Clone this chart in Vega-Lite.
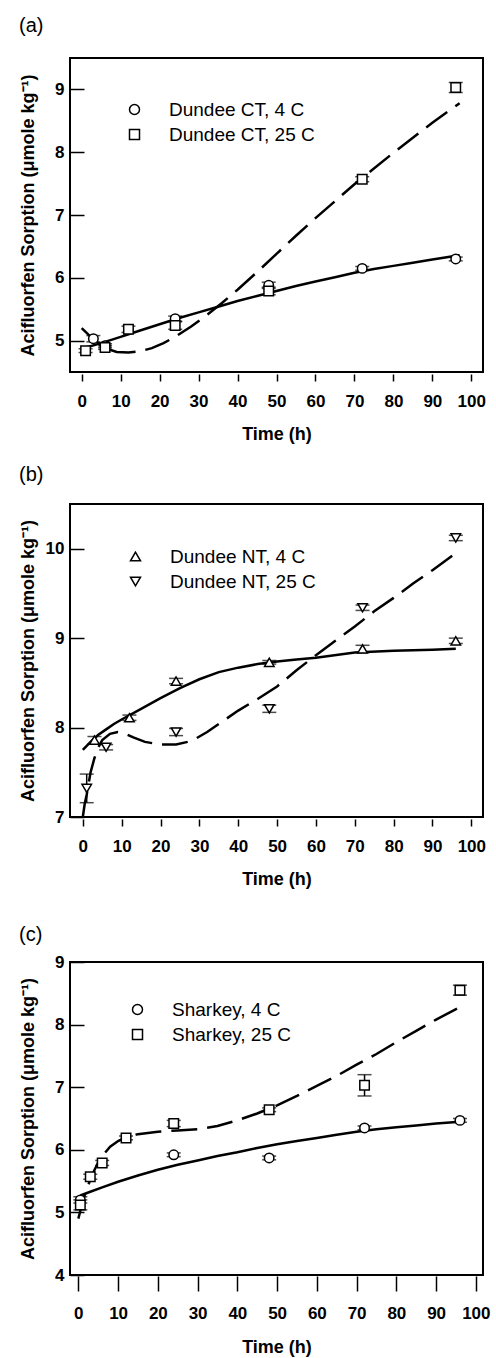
{
  "$schema": "https://vega.github.io/schema/vega-lite/v6.json",
  "background": "white",
  "padding": {"left": 18, "top": 15, "right": 5, "bottom": 0},
  "spacing": 20,
  "datasets": {
    "pts": [
      {"panel": "a", "series": "Dundee CT, 4 C", "t": 3, "v": 5.03, "err": 0.05},
      {"panel": "a", "series": "Dundee CT, 4 C", "t": 6, "v": 4.92, "err": 0.03},
      {"panel": "a", "series": "Dundee CT, 4 C", "t": 24, "v": 5.35, "err": 0.04},
      {"panel": "a", "series": "Dundee CT, 4 C", "t": 48, "v": 5.88, "err": 0.05},
      {"panel": "a", "series": "Dundee CT, 4 C", "t": 72, "v": 6.15, "err": 0.03},
      {"panel": "a", "series": "Dundee CT, 4 C", "t": 96, "v": 6.30, "err": 0.03},
      {"panel": "a", "series": "Dundee CT, 25 C", "t": 1, "v": 4.84, "err": 0.03},
      {"panel": "a", "series": "Dundee CT, 25 C", "t": 6, "v": 4.89, "err": 0.03},
      {"panel": "a", "series": "Dundee CT, 25 C", "t": 12, "v": 5.18, "err": 0.05},
      {"panel": "a", "series": "Dundee CT, 25 C", "t": 24, "v": 5.24, "err": 0.06},
      {"panel": "a", "series": "Dundee CT, 25 C", "t": 48, "v": 5.79, "err": 0.06},
      {"panel": "a", "series": "Dundee CT, 25 C", "t": 72, "v": 7.57, "err": 0.04},
      {"panel": "a", "series": "Dundee CT, 25 C", "t": 96, "v": 9.03, "err": 0.08},
      {"panel": "b", "series": "Dundee NT, 4 C", "t": 3, "v": 7.86, "err": 0.04},
      {"panel": "b", "series": "Dundee NT, 4 C", "t": 12, "v": 8.11, "err": 0.03},
      {"panel": "b", "series": "Dundee NT, 4 C", "t": 24, "v": 8.52, "err": 0.03},
      {"panel": "b", "series": "Dundee NT, 4 C", "t": 48, "v": 8.73, "err": 0.02},
      {"panel": "b", "series": "Dundee NT, 4 C", "t": 72, "v": 8.88, "err": 0.04},
      {"panel": "b", "series": "Dundee NT, 4 C", "t": 96, "v": 8.97, "err": 0.03},
      {"panel": "b", "series": "Dundee NT, 25 C", "t": 1, "v": 7.32, "err": 0.16},
      {"panel": "b", "series": "Dundee NT, 25 C", "t": 6, "v": 7.78, "err": 0.03},
      {"panel": "b", "series": "Dundee NT, 25 C", "t": 24, "v": 7.95, "err": 0.04},
      {"panel": "b", "series": "Dundee NT, 25 C", "t": 48, "v": 8.21, "err": 0.04},
      {"panel": "b", "series": "Dundee NT, 25 C", "t": 72, "v": 9.34, "err": 0.03},
      {"panel": "b", "series": "Dundee NT, 25 C", "t": 96, "v": 10.12, "err": 0.03},
      {"panel": "c", "series": "Sharkey, 4 C", "t": 0.5, "v": 5.2, "err": 0.05},
      {"panel": "c", "series": "Sharkey, 4 C", "t": 24, "v": 5.92, "err": 0.03},
      {"panel": "c", "series": "Sharkey, 4 C", "t": 48, "v": 5.87, "err": 0.03},
      {"panel": "c", "series": "Sharkey, 4 C", "t": 72, "v": 6.35, "err": 0.03},
      {"panel": "c", "series": "Sharkey, 4 C", "t": 96, "v": 6.47, "err": 0.03},
      {"panel": "c", "series": "Sharkey, 25 C", "t": 0.5, "v": 5.12, "err": 0.08},
      {"panel": "c", "series": "Sharkey, 25 C", "t": 3, "v": 5.57, "err": 0.04},
      {"panel": "c", "series": "Sharkey, 25 C", "t": 6, "v": 5.79, "err": 0.04},
      {"panel": "c", "series": "Sharkey, 25 C", "t": 12, "v": 6.19, "err": 0.03},
      {"panel": "c", "series": "Sharkey, 25 C", "t": 24, "v": 6.42, "err": 0.05},
      {"panel": "c", "series": "Sharkey, 25 C", "t": 48, "v": 6.64, "err": 0.03},
      {"panel": "c", "series": "Sharkey, 25 C", "t": 72, "v": 7.03, "err": 0.17},
      {"panel": "c", "series": "Sharkey, 25 C", "t": 96, "v": 8.55, "err": 0.08}
    ],
    "fit": [
      {"panel": "a", "kind": "solid", "t": 0, "v": 4.87},
      {"panel": "a", "kind": "solid", "t": 5, "v": 4.96},
      {"panel": "a", "kind": "solid", "t": 10, "v": 5.06},
      {"panel": "a", "kind": "solid", "t": 15, "v": 5.16},
      {"panel": "a", "kind": "solid", "t": 20, "v": 5.26},
      {"panel": "a", "kind": "solid", "t": 25, "v": 5.36},
      {"panel": "a", "kind": "solid", "t": 30, "v": 5.45},
      {"panel": "a", "kind": "solid", "t": 35, "v": 5.54},
      {"panel": "a", "kind": "solid", "t": 40, "v": 5.63},
      {"panel": "a", "kind": "solid", "t": 45, "v": 5.71},
      {"panel": "a", "kind": "solid", "t": 50, "v": 5.79},
      {"panel": "a", "kind": "solid", "t": 55, "v": 5.87},
      {"panel": "a", "kind": "solid", "t": 60, "v": 5.94},
      {"panel": "a", "kind": "solid", "t": 65, "v": 6.01},
      {"panel": "a", "kind": "solid", "t": 70, "v": 6.08},
      {"panel": "a", "kind": "solid", "t": 75, "v": 6.14},
      {"panel": "a", "kind": "solid", "t": 80, "v": 6.19},
      {"panel": "a", "kind": "solid", "t": 85, "v": 6.24},
      {"panel": "a", "kind": "solid", "t": 90, "v": 6.29},
      {"panel": "a", "kind": "solid", "t": 97, "v": 6.36},
      {"panel": "a", "kind": "dashed", "t": 0, "v": 5.2},
      {"panel": "a", "kind": "dashed", "t": 3, "v": 5.02},
      {"panel": "a", "kind": "dashed", "t": 6, "v": 4.88},
      {"panel": "a", "kind": "dashed", "t": 9, "v": 4.82},
      {"panel": "a", "kind": "dashed", "t": 12, "v": 4.81},
      {"panel": "a", "kind": "dashed", "t": 15, "v": 4.83},
      {"panel": "a", "kind": "dashed", "t": 18, "v": 4.88},
      {"panel": "a", "kind": "dashed", "t": 21, "v": 4.96},
      {"panel": "a", "kind": "dashed", "t": 24, "v": 5.06},
      {"panel": "a", "kind": "dashed", "t": 28, "v": 5.22},
      {"panel": "a", "kind": "dashed", "t": 32, "v": 5.4},
      {"panel": "a", "kind": "dashed", "t": 36, "v": 5.6},
      {"panel": "a", "kind": "dashed", "t": 40, "v": 5.81},
      {"panel": "a", "kind": "dashed", "t": 45, "v": 6.09},
      {"panel": "a", "kind": "dashed", "t": 50, "v": 6.38},
      {"panel": "a", "kind": "dashed", "t": 55, "v": 6.67},
      {"panel": "a", "kind": "dashed", "t": 60, "v": 6.95},
      {"panel": "a", "kind": "dashed", "t": 65, "v": 7.22},
      {"panel": "a", "kind": "dashed", "t": 70, "v": 7.49},
      {"panel": "a", "kind": "dashed", "t": 75, "v": 7.74},
      {"panel": "a", "kind": "dashed", "t": 80, "v": 7.99},
      {"panel": "a", "kind": "dashed", "t": 85, "v": 8.23},
      {"panel": "a", "kind": "dashed", "t": 90, "v": 8.47},
      {"panel": "a", "kind": "dashed", "t": 97, "v": 8.78},
      {"panel": "b", "kind": "solid", "t": 0, "v": 7.75},
      {"panel": "b", "kind": "solid", "t": 2, "v": 7.84},
      {"panel": "b", "kind": "solid", "t": 4, "v": 7.92},
      {"panel": "b", "kind": "solid", "t": 6, "v": 7.98},
      {"panel": "b", "kind": "solid", "t": 8, "v": 8.04},
      {"panel": "b", "kind": "solid", "t": 10, "v": 8.09},
      {"panel": "b", "kind": "solid", "t": 15, "v": 8.21},
      {"panel": "b", "kind": "solid", "t": 20, "v": 8.33},
      {"panel": "b", "kind": "solid", "t": 25, "v": 8.44},
      {"panel": "b", "kind": "solid", "t": 30, "v": 8.54},
      {"panel": "b", "kind": "solid", "t": 35, "v": 8.62},
      {"panel": "b", "kind": "solid", "t": 40, "v": 8.67},
      {"panel": "b", "kind": "solid", "t": 45, "v": 8.71},
      {"panel": "b", "kind": "solid", "t": 50, "v": 8.74},
      {"panel": "b", "kind": "solid", "t": 55, "v": 8.76},
      {"panel": "b", "kind": "solid", "t": 60, "v": 8.78},
      {"panel": "b", "kind": "solid", "t": 70, "v": 8.84},
      {"panel": "b", "kind": "solid", "t": 80, "v": 8.86},
      {"panel": "b", "kind": "solid", "t": 90, "v": 8.87},
      {"panel": "b", "kind": "solid", "t": 96, "v": 8.88},
      {"panel": "b", "kind": "dashed", "t": 0, "v": 7.0},
      {"panel": "b", "kind": "dashed", "t": 0.5, "v": 7.15},
      {"panel": "b", "kind": "dashed", "t": 1, "v": 7.25},
      {"panel": "b", "kind": "dashed", "t": 2, "v": 7.5},
      {"panel": "b", "kind": "dashed", "t": 3, "v": 7.66},
      {"panel": "b", "kind": "dashed", "t": 4, "v": 7.78},
      {"panel": "b", "kind": "dashed", "t": 5, "v": 7.86},
      {"panel": "b", "kind": "dashed", "t": 7, "v": 7.93},
      {"panel": "b", "kind": "dashed", "t": 9, "v": 7.95},
      {"panel": "b", "kind": "dashed", "t": 11, "v": 7.93},
      {"panel": "b", "kind": "dashed", "t": 13, "v": 7.89},
      {"panel": "b", "kind": "dashed", "t": 16, "v": 7.84},
      {"panel": "b", "kind": "dashed", "t": 20, "v": 7.81},
      {"panel": "b", "kind": "dashed", "t": 24, "v": 7.81},
      {"panel": "b", "kind": "dashed", "t": 28, "v": 7.85},
      {"panel": "b", "kind": "dashed", "t": 32, "v": 7.95},
      {"panel": "b", "kind": "dashed", "t": 36, "v": 8.07},
      {"panel": "b", "kind": "dashed", "t": 40, "v": 8.19},
      {"panel": "b", "kind": "dashed", "t": 45, "v": 8.32},
      {"panel": "b", "kind": "dashed", "t": 50, "v": 8.46},
      {"panel": "b", "kind": "dashed", "t": 55, "v": 8.64},
      {"panel": "b", "kind": "dashed", "t": 60, "v": 8.81},
      {"panel": "b", "kind": "dashed", "t": 65, "v": 8.97},
      {"panel": "b", "kind": "dashed", "t": 70, "v": 9.13},
      {"panel": "b", "kind": "dashed", "t": 75, "v": 9.3},
      {"panel": "b", "kind": "dashed", "t": 80, "v": 9.45},
      {"panel": "b", "kind": "dashed", "t": 85, "v": 9.61},
      {"panel": "b", "kind": "dashed", "t": 90, "v": 9.76},
      {"panel": "b", "kind": "dashed", "t": 96, "v": 9.95},
      {"panel": "c", "kind": "solid", "t": 0.5, "v": 5.27},
      {"panel": "c", "kind": "solid", "t": 3, "v": 5.33},
      {"panel": "c", "kind": "solid", "t": 6, "v": 5.4},
      {"panel": "c", "kind": "solid", "t": 10, "v": 5.49},
      {"panel": "c", "kind": "solid", "t": 15, "v": 5.59},
      {"panel": "c", "kind": "solid", "t": 20, "v": 5.68},
      {"panel": "c", "kind": "solid", "t": 25, "v": 5.76},
      {"panel": "c", "kind": "solid", "t": 30, "v": 5.83},
      {"panel": "c", "kind": "solid", "t": 35, "v": 5.9},
      {"panel": "c", "kind": "solid", "t": 40, "v": 5.96},
      {"panel": "c", "kind": "solid", "t": 45, "v": 6.03},
      {"panel": "c", "kind": "solid", "t": 50, "v": 6.09},
      {"panel": "c", "kind": "solid", "t": 55, "v": 6.14},
      {"panel": "c", "kind": "solid", "t": 60, "v": 6.19},
      {"panel": "c", "kind": "solid", "t": 65, "v": 6.24},
      {"panel": "c", "kind": "solid", "t": 70, "v": 6.29},
      {"panel": "c", "kind": "solid", "t": 75, "v": 6.33},
      {"panel": "c", "kind": "solid", "t": 80, "v": 6.36},
      {"panel": "c", "kind": "solid", "t": 85, "v": 6.39},
      {"panel": "c", "kind": "solid", "t": 90, "v": 6.42},
      {"panel": "c", "kind": "solid", "t": 96, "v": 6.45},
      {"panel": "c", "kind": "dashed", "t": 0, "v": 4.9},
      {"panel": "c", "kind": "dashed", "t": 1, "v": 5.15},
      {"panel": "c", "kind": "dashed", "t": 2, "v": 5.36},
      {"panel": "c", "kind": "dashed", "t": 3, "v": 5.52},
      {"panel": "c", "kind": "dashed", "t": 4, "v": 5.67},
      {"panel": "c", "kind": "dashed", "t": 5, "v": 5.8},
      {"panel": "c", "kind": "dashed", "t": 6, "v": 5.9},
      {"panel": "c", "kind": "dashed", "t": 8, "v": 6.05},
      {"panel": "c", "kind": "dashed", "t": 10, "v": 6.14},
      {"panel": "c", "kind": "dashed", "t": 12, "v": 6.2},
      {"panel": "c", "kind": "dashed", "t": 15, "v": 6.25},
      {"panel": "c", "kind": "dashed", "t": 20, "v": 6.29},
      {"panel": "c", "kind": "dashed", "t": 25, "v": 6.31},
      {"panel": "c", "kind": "dashed", "t": 30, "v": 6.33},
      {"panel": "c", "kind": "dashed", "t": 35, "v": 6.38},
      {"panel": "c", "kind": "dashed", "t": 40, "v": 6.47},
      {"panel": "c", "kind": "dashed", "t": 45, "v": 6.58},
      {"panel": "c", "kind": "dashed", "t": 50, "v": 6.71},
      {"panel": "c", "kind": "dashed", "t": 55, "v": 6.86},
      {"panel": "c", "kind": "dashed", "t": 60, "v": 7.02},
      {"panel": "c", "kind": "dashed", "t": 65, "v": 7.18},
      {"panel": "c", "kind": "dashed", "t": 70, "v": 7.36},
      {"panel": "c", "kind": "dashed", "t": 75, "v": 7.53},
      {"panel": "c", "kind": "dashed", "t": 80, "v": 7.72},
      {"panel": "c", "kind": "dashed", "t": 85, "v": 7.9},
      {"panel": "c", "kind": "dashed", "t": 90, "v": 8.08},
      {"panel": "c", "kind": "dashed", "t": 96, "v": 8.28}
    ]
  },
  "resolve": {
    "scale": {"x": "independent", "y": "independent", "shape": "independent"},
    "legend": {"shape": "independent"}
  },
  "vconcat": [
    {
      "title": {"text": "(a)", "offset": 22},
      "width": 413,
      "height": 314,
      "encoding": {
        "x": {"field": "t", "type": "quantitative", "scale": {"domain": [-3, 103], "nice": false, "zero": false},
              "axis": {"values": [0, 10, 20, 30, 40, 50, 60, 70, 80, 90, 100], "title": "Time (h)", "offset": 2, "tickSize": 7, "labelPadding": 12, "titlePadding": 16}},
        "y": {"field": "v", "type": "quantitative", "scale": {"domain": [4.5, 9.5], "nice": false, "zero": false},
              "axis": {"values": [5, 6, 7, 8, 9], "title": "Acifluorfen Sorption (μmole kg⁻¹)"}}
      },
      "layer": [
        {"data": {"name": "fit"}, "transform": [{"filter": "datum.panel == 'a' && datum.kind == 'solid'"}],
         "mark": {"type": "line", "color": "black", "strokeWidth": 2.5}},
        {"data": {"name": "fit"}, "transform": [{"filter": "datum.panel == 'a' && datum.kind == 'dashed'"}],
         "mark": {"type": "line", "color": "black", "strokeWidth": 2.5, "strokeDash": [26, 10]}},
        {"data": {"name": "pts"}, "transform": [{"filter": "datum.panel == 'a'"}],
         "mark": {"type": "errorbar", "ticks": {"size": 14, "thickness": 1.5, "color": "black"}, "color": "black", "thickness": 1.5},
         "encoding": {"yError": {"field": "err"}}},
        {"data": {"name": "pts"}, "transform": [{"filter": "datum.panel == 'a'"}],
         "mark": {"type": "point", "color": "black", "fill": "white", "strokeWidth": 1.5, "size": 90, "opacity": 1},
         "encoding": {"shape": {"field": "series", "type": "nominal", "scale": {"domain": ["Dundee CT, 4 C", "Dundee CT, 25 C"], "range": ["circle", "square"]},
           "legend": {"orient": "none", "legendX": 55, "legendY": 42, "labelFontSize": 19, "labelOffset": 25, "rowPadding": 5}}}}
      ]
    },
    {
      "title": {"text": "(b)", "offset": 19},
      "width": 413,
      "height": 313,
      "encoding": {
        "x": {"field": "t", "type": "quantitative", "scale": {"domain": [-3.3, 103], "nice": false, "zero": false},
              "axis": {"values": [0, 10, 20, 30, 40, 50, 60, 70, 80, 90, 100], "title": "Time (h)", "offset": 2, "tickSize": 7, "labelPadding": 12, "titlePadding": 16}},
        "y": {"field": "v", "type": "quantitative", "scale": {"domain": [7, 10.5], "nice": false, "zero": false},
              "axis": {"values": [7, 8, 9, 10], "title": "Acifluorfen Sorption (μmole kg⁻¹)"}}
      },
      "layer": [
        {"data": {"name": "fit"}, "transform": [{"filter": "datum.panel == 'b' && datum.kind == 'solid'"}],
         "mark": {"type": "line", "color": "black", "strokeWidth": 2.5}},
        {"data": {"name": "fit"}, "transform": [{"filter": "datum.panel == 'b' && datum.kind == 'dashed'"}],
         "mark": {"type": "line", "color": "black", "strokeWidth": 2.5, "strokeDash": [26, 10]}},
        {"data": {"name": "pts"}, "transform": [{"filter": "datum.panel == 'b'"}],
         "mark": {"type": "errorbar", "ticks": {"size": 14, "thickness": 1.5, "color": "black"}, "color": "black", "thickness": 1.5},
         "encoding": {"yError": {"field": "err"}}},
        {"data": {"name": "pts"}, "transform": [{"filter": "datum.panel == 'b'"}],
         "mark": {"type": "point", "color": "black", "fill": "white", "strokeWidth": 1.5, "size": 90, "opacity": 1},
         "encoding": {"shape": {"field": "series", "type": "nominal", "scale": {"domain": ["Dundee NT, 4 C", "Dundee NT, 25 C"], "range": ["triangle-up", "triangle-down"]},
           "legend": {"orient": "none", "legendX": 56, "legendY": 43, "labelFontSize": 19, "labelOffset": 25, "rowPadding": 5}}}}
      ]
    },
    {
      "title": {"text": ["", "(c)"], "offset": 8, "lineHeight": 15},
      "width": 413,
      "height": 313,
      "encoding": {
        "x": {"field": "t", "type": "quantitative", "scale": {"domain": [-2.1, 101.8], "nice": false, "zero": false},
              "axis": {"values": [0, 10, 20, 30, 40, 50, 60, 70, 80, 90, 100], "title": "Time (h)", "offset": 1, "tickSize": 15, "labelPadding": 14, "titlePadding": 17}},
        "y": {"field": "v", "type": "quantitative", "scale": {"domain": [4, 9], "nice": false, "zero": false},
              "axis": {"values": [4, 5, 6, 7, 8, 9], "title": "Acifluorfen Sorption (μmole kg⁻¹)"}}
      },
      "layer": [
        {"data": {"name": "fit"}, "transform": [{"filter": "datum.panel == 'c' && datum.kind == 'solid'"}],
         "mark": {"type": "line", "color": "black", "strokeWidth": 2.5}},
        {"data": {"name": "fit"}, "transform": [{"filter": "datum.panel == 'c' && datum.kind == 'dashed'"}],
         "mark": {"type": "line", "color": "black", "strokeWidth": 2.5, "strokeDash": [26, 10]}},
        {"data": {"name": "pts"}, "transform": [{"filter": "datum.panel == 'c'"}],
         "mark": {"type": "errorbar", "ticks": {"size": 14, "thickness": 1.5, "color": "black"}, "color": "black", "thickness": 1.5},
         "encoding": {"yError": {"field": "err"}}},
        {"data": {"name": "pts"}, "transform": [{"filter": "datum.panel == 'c'"}],
         "mark": {"type": "point", "color": "black", "fill": "white", "strokeWidth": 1.5, "size": 90, "opacity": 1},
         "encoding": {"shape": {"field": "series", "type": "nominal", "scale": {"domain": ["Sharkey, 4 C", "Sharkey, 25 C"], "range": ["circle", "square"]},
           "legend": {"orient": "none", "legendX": 58, "legendY": 38, "labelFontSize": 19, "labelOffset": 25, "rowPadding": 5}}}}
      ]
    }
  ],
  "config": {
    "view": {"stroke": "black", "strokeWidth": 2},
    "axis": {
      "domain": false, "grid": false,
      "labelFont": "Liberation Sans", "labelFontWeight": "bold", "labelFontSize": 17, "labelColor": "black",
      "tickColor": "black", "tickWidth": 1.5,
      "titleFont": "Liberation Sans", "titleFontWeight": "bold", "titleFontSize": 18, "titleColor": "black"
    },
    "axisY": {"tickSize": -14, "labelPadding": 20, "minExtent": 20, "maxExtent": 20, "titlePadding": 13},
    "legend": {
      "labelFont": "Liberation Sans", "labelColor": "black", "title": null
    },
    "title": {"font": "Liberation Sans", "fontSize": 20, "fontWeight": "normal", "anchor": "start", "frame": "bounds", "color": "black"}
  }
}
